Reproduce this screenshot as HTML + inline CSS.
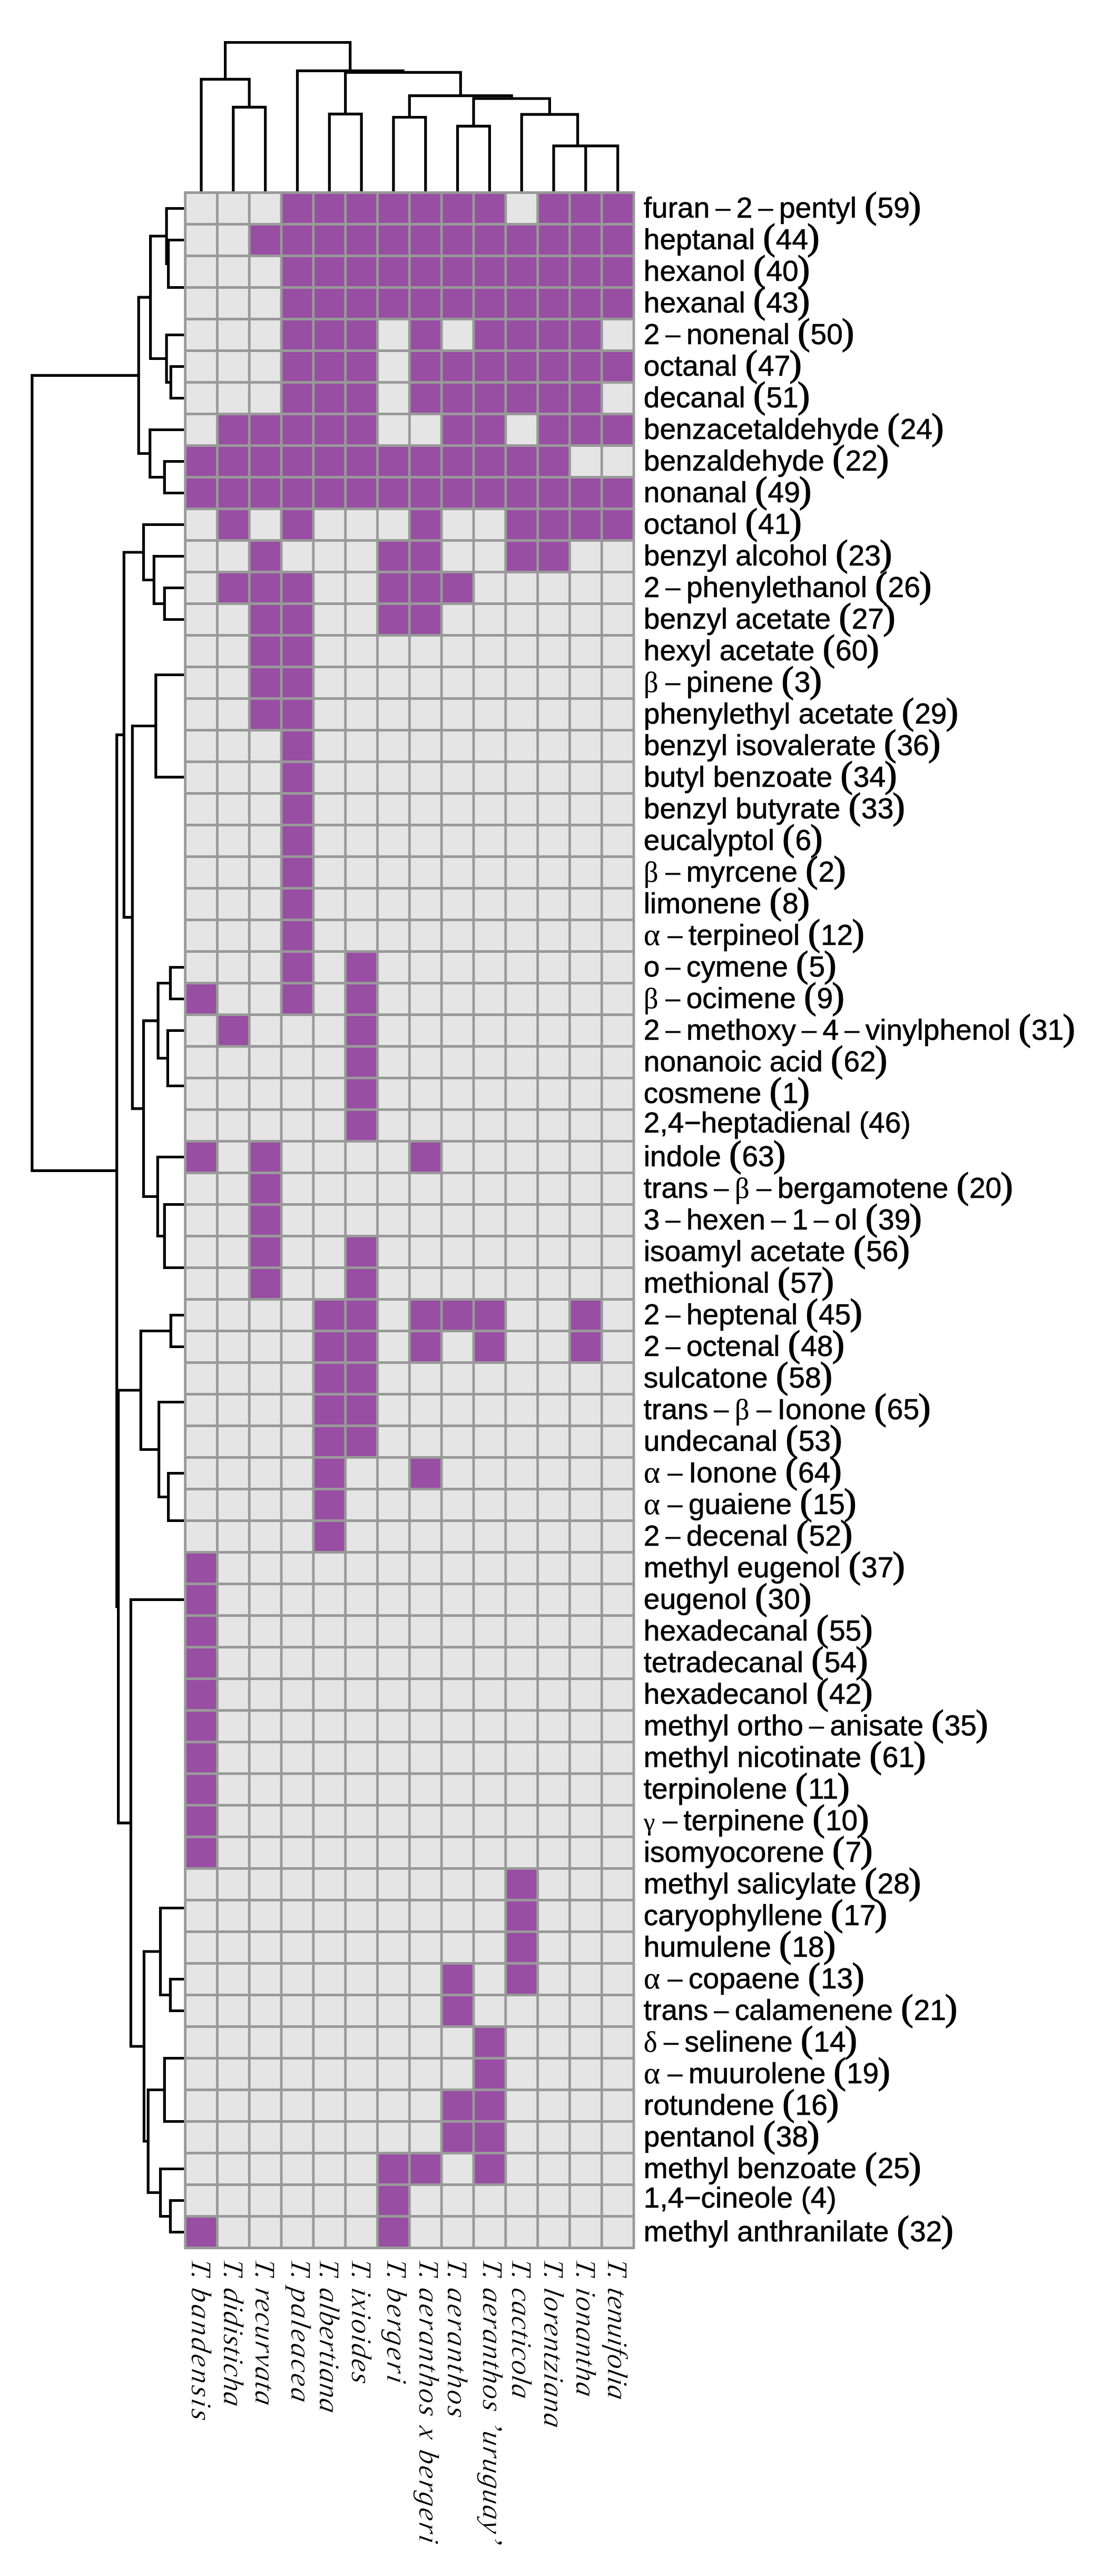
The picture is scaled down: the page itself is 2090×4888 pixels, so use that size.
<!DOCTYPE html>
<html lang="en"><head><meta charset="utf-8"><title>Volatile compounds heatmap</title>
<style>
html,body{margin:0;padding:0;background:#fff}
svg{display:block}
.m{font-family:'Liberation Serif','Times New Roman',serif;font-size:60.0px}
.p{font-family:'Liberation Serif','Times New Roman',serif;font-size:70.0px;stroke-width:1.6px}
.g{font-family:'Liberation Serif','Times New Roman',serif;stroke-width:0.2px}
text{white-space:pre}
</style></head>
<body>
<svg width="2090" height="4888" viewBox="0 0 2090 4888">
<rect width="2090" height="4888" fill="#fff"/>
<rect x="351.60" y="365.50" width="851.48" height="3900.00" fill="#e5e5e5"/>
<g fill="#984ea3">
<rect x="534.06" y="365.50" width="425.74" height="60.00"/>
<rect x="1020.62" y="365.50" width="182.46" height="60.00"/>
<rect x="473.24" y="425.50" width="729.84" height="60.00"/>
<rect x="534.06" y="485.50" width="669.02" height="60.00"/>
<rect x="534.06" y="545.50" width="669.02" height="60.00"/>
<rect x="534.06" y="605.50" width="182.46" height="60.00"/>
<rect x="777.34" y="605.50" width="60.82" height="60.00"/>
<rect x="898.98" y="605.50" width="243.28" height="60.00"/>
<rect x="534.06" y="665.50" width="182.46" height="60.00"/>
<rect x="777.34" y="665.50" width="425.74" height="60.00"/>
<rect x="534.06" y="725.50" width="182.46" height="60.00"/>
<rect x="777.34" y="725.50" width="364.92" height="60.00"/>
<rect x="412.42" y="785.50" width="304.10" height="60.00"/>
<rect x="838.16" y="785.50" width="121.64" height="60.00"/>
<rect x="1020.62" y="785.50" width="182.46" height="60.00"/>
<rect x="351.60" y="845.50" width="729.84" height="60.00"/>
<rect x="351.60" y="905.50" width="851.48" height="60.00"/>
<rect x="412.42" y="965.50" width="60.82" height="60.00"/>
<rect x="534.06" y="965.50" width="60.82" height="60.00"/>
<rect x="777.34" y="965.50" width="60.82" height="60.00"/>
<rect x="959.80" y="965.50" width="243.28" height="60.00"/>
<rect x="473.24" y="1025.50" width="60.82" height="60.00"/>
<rect x="716.52" y="1025.50" width="121.64" height="60.00"/>
<rect x="959.80" y="1025.50" width="121.64" height="60.00"/>
<rect x="412.42" y="1085.50" width="182.46" height="60.00"/>
<rect x="716.52" y="1085.50" width="182.46" height="60.00"/>
<rect x="473.24" y="1145.50" width="121.64" height="60.00"/>
<rect x="716.52" y="1145.50" width="121.64" height="60.00"/>
<rect x="473.24" y="1205.50" width="121.64" height="60.00"/>
<rect x="473.24" y="1265.50" width="121.64" height="60.00"/>
<rect x="473.24" y="1325.50" width="121.64" height="60.00"/>
<rect x="534.06" y="1385.50" width="60.82" height="60.00"/>
<rect x="534.06" y="1445.50" width="60.82" height="60.00"/>
<rect x="534.06" y="1505.50" width="60.82" height="60.00"/>
<rect x="534.06" y="1565.50" width="60.82" height="60.00"/>
<rect x="534.06" y="1625.50" width="60.82" height="60.00"/>
<rect x="534.06" y="1685.50" width="60.82" height="60.00"/>
<rect x="534.06" y="1745.50" width="60.82" height="60.00"/>
<rect x="534.06" y="1805.50" width="60.82" height="60.00"/>
<rect x="655.70" y="1805.50" width="60.82" height="60.00"/>
<rect x="351.60" y="1865.50" width="60.82" height="60.00"/>
<rect x="534.06" y="1865.50" width="60.82" height="60.00"/>
<rect x="655.70" y="1865.50" width="60.82" height="60.00"/>
<rect x="412.42" y="1925.50" width="60.82" height="60.00"/>
<rect x="655.70" y="1925.50" width="60.82" height="60.00"/>
<rect x="655.70" y="1985.50" width="60.82" height="60.00"/>
<rect x="655.70" y="2045.50" width="60.82" height="60.00"/>
<rect x="655.70" y="2105.50" width="60.82" height="60.00"/>
<rect x="351.60" y="2165.50" width="60.82" height="60.00"/>
<rect x="473.24" y="2165.50" width="60.82" height="60.00"/>
<rect x="777.34" y="2165.50" width="60.82" height="60.00"/>
<rect x="473.24" y="2225.50" width="60.82" height="60.00"/>
<rect x="473.24" y="2285.50" width="60.82" height="60.00"/>
<rect x="473.24" y="2345.50" width="60.82" height="60.00"/>
<rect x="655.70" y="2345.50" width="60.82" height="60.00"/>
<rect x="473.24" y="2405.50" width="60.82" height="60.00"/>
<rect x="655.70" y="2405.50" width="60.82" height="60.00"/>
<rect x="594.88" y="2465.50" width="121.64" height="60.00"/>
<rect x="777.34" y="2465.50" width="182.46" height="60.00"/>
<rect x="1081.44" y="2465.50" width="60.82" height="60.00"/>
<rect x="594.88" y="2525.50" width="121.64" height="60.00"/>
<rect x="777.34" y="2525.50" width="60.82" height="60.00"/>
<rect x="898.98" y="2525.50" width="60.82" height="60.00"/>
<rect x="1081.44" y="2525.50" width="60.82" height="60.00"/>
<rect x="594.88" y="2585.50" width="121.64" height="60.00"/>
<rect x="594.88" y="2645.50" width="121.64" height="60.00"/>
<rect x="594.88" y="2705.50" width="121.64" height="60.00"/>
<rect x="594.88" y="2765.50" width="60.82" height="60.00"/>
<rect x="777.34" y="2765.50" width="60.82" height="60.00"/>
<rect x="594.88" y="2825.50" width="60.82" height="60.00"/>
<rect x="594.88" y="2885.50" width="60.82" height="60.00"/>
<rect x="351.60" y="2945.50" width="60.82" height="60.00"/>
<rect x="351.60" y="3005.50" width="60.82" height="60.00"/>
<rect x="351.60" y="3065.50" width="60.82" height="60.00"/>
<rect x="351.60" y="3125.50" width="60.82" height="60.00"/>
<rect x="351.60" y="3185.50" width="60.82" height="60.00"/>
<rect x="351.60" y="3245.50" width="60.82" height="60.00"/>
<rect x="351.60" y="3305.50" width="60.82" height="60.00"/>
<rect x="351.60" y="3365.50" width="60.82" height="60.00"/>
<rect x="351.60" y="3425.50" width="60.82" height="60.00"/>
<rect x="351.60" y="3485.50" width="60.82" height="60.00"/>
<rect x="959.80" y="3545.50" width="60.82" height="60.00"/>
<rect x="959.80" y="3605.50" width="60.82" height="60.00"/>
<rect x="959.80" y="3665.50" width="60.82" height="60.00"/>
<rect x="838.16" y="3725.50" width="60.82" height="60.00"/>
<rect x="959.80" y="3725.50" width="60.82" height="60.00"/>
<rect x="838.16" y="3785.50" width="60.82" height="60.00"/>
<rect x="898.98" y="3845.50" width="60.82" height="60.00"/>
<rect x="898.98" y="3905.50" width="60.82" height="60.00"/>
<rect x="838.16" y="3965.50" width="121.64" height="60.00"/>
<rect x="838.16" y="4025.50" width="121.64" height="60.00"/>
<rect x="716.52" y="4085.50" width="121.64" height="60.00"/>
<rect x="898.98" y="4085.50" width="60.82" height="60.00"/>
<rect x="716.52" y="4145.50" width="60.82" height="60.00"/>
<rect x="351.60" y="4205.50" width="60.82" height="60.00"/>
<rect x="716.52" y="4205.50" width="60.82" height="60.00"/>
</g>
<path d="M317.0 455.5H351.6M317.0 545.5H351.6M319.6 455.5V545.5M313.5 395.5H351.6M313.5 500.5H319.6M316.1 395.5V500.5M321.7 695.5H351.6M321.7 755.5H351.6M324.3 695.5V755.5M313.5 635.5H351.6M313.5 725.5H324.3M316.1 635.5V725.5M283.0 448.0H316.1M283.0 680.5H316.1M285.6 448.0V680.5M309.7 875.5H351.6M309.7 935.5H351.6M312.3 875.5V935.5M282.1 815.5H351.6M282.1 905.5H312.3M284.7 815.5V905.5M260.6 564.2H285.6M260.6 860.5H284.7M263.2 564.2V860.5M309.7 1115.5H351.6M309.7 1175.5H351.6M312.3 1115.5V1175.5M289.7 1055.5H351.6M289.7 1145.5H312.3M292.3 1055.5V1145.5M269.9 995.5H351.6M269.9 1100.5H292.3M272.5 995.5V1100.5M293.2 1280.5H351.6M293.2 1474.6H351.6M295.8 1280.5V1474.6M320.8 1835.5H351.6M320.8 1895.5H351.6M323.4 1835.5V1895.5M315.8 1955.5H351.6M315.8 2060.5H351.6M318.4 1955.5V2060.5M297.5 1865.5H323.4M297.5 2008.0H318.4M300.1 1865.5V2008.0M309.7 2285.5H351.6M309.7 2405.5H351.6M312.3 2285.5V2405.5M296.7 2195.5H351.6M296.7 2345.5H312.3M299.3 2195.5V2345.5M269.9 1936.8H300.1M269.9 2270.5H299.3M272.5 1936.8V2270.5M248.7 1377.5H295.8M248.7 2103.6H272.5M251.3 1377.5V2103.6M232.7 1048.0H272.5M232.7 1740.6H251.3M235.3 1048.0V1740.6M321.7 2495.5H351.6M321.7 2555.5H351.6M324.3 2495.5V2555.5M317.0 2795.5H351.6M317.0 2885.5H351.6M319.6 2795.5V2885.5M299.0 2660.5H351.6M299.0 2840.5H319.6M301.6 2660.5V2840.5M264.7 2525.5H324.3M264.7 2750.5H301.6M267.3 2525.5V2750.5M320.8 3755.5H351.6M320.8 3815.5H351.6M323.4 3755.5V3815.5M301.9 3620.5H351.6M301.9 3785.5H323.4M304.5 3620.5V3785.5M309.7 3905.5H351.6M309.7 4025.5H351.6M312.3 3905.5V4025.5M320.8 4175.5H351.6M320.8 4235.5H351.6M323.4 4175.5V4235.5M301.9 4115.5H351.6M301.9 4205.5H323.4M304.5 4115.5V4205.5M278.6 3965.5H312.3M278.6 4160.5H304.5M281.2 3965.5V4160.5M270.8 3703.0H304.5M270.8 4063.0H281.2M273.4 3703.0V4063.0M245.8 3035.4H351.6M245.8 3883.0H273.4M248.4 3035.4V3883.0M222.0 2638.0H267.3M222.0 3459.2H248.4M224.6 2638.0V3459.2M219.1 1394.3H235.3M219.1 3048.6H224.6M221.7 1394.3V3048.6M58.3 712.4H263.2M58.3 2221.4H221.7M60.9 712.4V2221.4M442.8 200.7V365.5M503.7 200.7V365.5M442.8 203.3H503.7M382.0 147.7V365.5M473.2 147.7V203.3M382.0 150.3H473.2M625.3 213.7V365.5M686.1 213.7V365.5M625.3 216.3H686.1M746.9 219.9V365.5M807.8 219.9V365.5M746.9 222.5H807.8M868.6 236.7V365.5M929.4 236.7V365.5M868.6 239.3H929.4M1111.8 274.3V365.5M1172.7 274.3V365.5M1111.8 276.9H1172.7M1051.0 274.3V365.5M1142.3 274.3V276.9M1051.0 276.9H1142.3M990.2 214.5V365.5M1096.6 214.5V276.9M990.2 217.1H1096.6M899.0 184.4V239.3M1043.4 184.4V217.1M899.0 187.0H1043.4M777.3 179.0V222.5M971.2 179.0V187.0M777.3 181.6H971.2M655.7 134.7V216.3M874.3 134.7V181.6M655.7 137.3H874.3M564.5 131.8V365.5M765.0 131.8V137.3M564.5 134.4H765.0M427.6 77.9V150.3M664.7 77.9V134.4M427.6 80.5H664.7" fill="none" stroke="#000" stroke-width="5.2" stroke-linecap="butt"/>
<path d="M351.60 363.10V4267.90M412.42 363.10V4267.90M473.24 363.10V4267.90M534.06 363.10V4267.90M594.88 363.10V4267.90M655.70 363.10V4267.90M716.52 363.10V4267.90M777.34 363.10V4267.90M838.16 363.10V4267.90M898.98 363.10V4267.90M959.80 363.10V4267.90M1020.62 363.10V4267.90M1081.44 363.10V4267.90M1142.26 363.10V4267.90M1203.08 363.10V4267.90M349.20 365.50H1205.48M349.20 425.50H1205.48M349.20 485.50H1205.48M349.20 545.50H1205.48M349.20 605.50H1205.48M349.20 665.50H1205.48M349.20 725.50H1205.48M349.20 785.50H1205.48M349.20 845.50H1205.48M349.20 905.50H1205.48M349.20 965.50H1205.48M349.20 1025.50H1205.48M349.20 1085.50H1205.48M349.20 1145.50H1205.48M349.20 1205.50H1205.48M349.20 1265.50H1205.48M349.20 1325.50H1205.48M349.20 1385.50H1205.48M349.20 1445.50H1205.48M349.20 1505.50H1205.48M349.20 1565.50H1205.48M349.20 1625.50H1205.48M349.20 1685.50H1205.48M349.20 1745.50H1205.48M349.20 1805.50H1205.48M349.20 1865.50H1205.48M349.20 1925.50H1205.48M349.20 1985.50H1205.48M349.20 2045.50H1205.48M349.20 2105.50H1205.48M349.20 2165.50H1205.48M349.20 2225.50H1205.48M349.20 2285.50H1205.48M349.20 2345.50H1205.48M349.20 2405.50H1205.48M349.20 2465.50H1205.48M349.20 2525.50H1205.48M349.20 2585.50H1205.48M349.20 2645.50H1205.48M349.20 2705.50H1205.48M349.20 2765.50H1205.48M349.20 2825.50H1205.48M349.20 2885.50H1205.48M349.20 2945.50H1205.48M349.20 3005.50H1205.48M349.20 3065.50H1205.48M349.20 3125.50H1205.48M349.20 3185.50H1205.48M349.20 3245.50H1205.48M349.20 3305.50H1205.48M349.20 3365.50H1205.48M349.20 3425.50H1205.48M349.20 3485.50H1205.48M349.20 3545.50H1205.48M349.20 3605.50H1205.48M349.20 3665.50H1205.48M349.20 3725.50H1205.48M349.20 3785.50H1205.48M349.20 3845.50H1205.48M349.20 3905.50H1205.48M349.20 3965.50H1205.48M349.20 4025.50H1205.48M349.20 4085.50H1205.48M349.20 4145.50H1205.48M349.20 4205.50H1205.48M349.20 4265.50H1205.48" fill="none" stroke="#999999" stroke-width="4.8"/>
<g font-family="'Liberation Sans', Arial, Helvetica, sans-serif" font-size="55.1" fill="#000" stroke="#000" stroke-width="0.7">
<text x="1221.8" y="412.8" xml:space="preserve">furan<tspan class="m" dx="8.0" dy="5.6">−</tspan><tspan dx="8.6" dy="-5.6">2</tspan><tspan class="m" dx="8.0" dy="5.6">−</tspan><tspan dx="8.6" dy="-5.6">pentyl</tspan> <tspan class="p" dy="-0.3">(</tspan><tspan dx="1" dy="0.3">59</tspan><tspan class="p" dx="-1.8" dy="-0.3">)</tspan></text>
<text x="1221.8" y="472.8" xml:space="preserve">heptanal <tspan class="p" dy="-0.3">(</tspan><tspan dx="1" dy="0.3">44</tspan><tspan class="p" dx="-1.8" dy="-0.3">)</tspan></text>
<text x="1221.8" y="532.8" xml:space="preserve">hexanol <tspan class="p" dy="-0.3">(</tspan><tspan dx="1" dy="0.3">40</tspan><tspan class="p" dx="-1.8" dy="-0.3">)</tspan></text>
<text x="1221.8" y="592.8" xml:space="preserve">hexanal <tspan class="p" dy="-0.3">(</tspan><tspan dx="1" dy="0.3">43</tspan><tspan class="p" dx="-1.8" dy="-0.3">)</tspan></text>
<text x="1221.8" y="652.8" xml:space="preserve">2<tspan class="m" dx="8.0" dy="5.6">−</tspan><tspan dx="8.6" dy="-5.6">nonenal</tspan> <tspan class="p" dy="-0.3">(</tspan><tspan dx="1" dy="0.3">50</tspan><tspan class="p" dx="-1.8" dy="-0.3">)</tspan></text>
<text x="1221.8" y="712.8" xml:space="preserve">octanal <tspan class="p" dy="-0.3">(</tspan><tspan dx="1" dy="0.3">47</tspan><tspan class="p" dx="-1.8" dy="-0.3">)</tspan></text>
<text x="1221.8" y="772.8" xml:space="preserve">decanal <tspan class="p" dy="-0.3">(</tspan><tspan dx="1" dy="0.3">51</tspan><tspan class="p" dx="-1.8" dy="-0.3">)</tspan></text>
<text x="1221.8" y="832.8" xml:space="preserve">benzacetaldehyde <tspan class="p" dy="-0.3">(</tspan><tspan dx="1" dy="0.3">24</tspan><tspan class="p" dx="-1.8" dy="-0.3">)</tspan></text>
<text x="1221.8" y="892.8" xml:space="preserve">benzaldehyde <tspan class="p" dy="-0.3">(</tspan><tspan dx="1" dy="0.3">22</tspan><tspan class="p" dx="-1.8" dy="-0.3">)</tspan></text>
<text x="1221.8" y="952.8" xml:space="preserve">nonanal <tspan class="p" dy="-0.3">(</tspan><tspan dx="1" dy="0.3">49</tspan><tspan class="p" dx="-1.8" dy="-0.3">)</tspan></text>
<text x="1221.8" y="1012.8" xml:space="preserve">octanol <tspan class="p" dy="-0.3">(</tspan><tspan dx="1" dy="0.3">41</tspan><tspan class="p" dx="-1.8" dy="-0.3">)</tspan></text>
<text x="1221.8" y="1072.8" xml:space="preserve">benzyl alcohol <tspan class="p" dy="-0.3">(</tspan><tspan dx="1" dy="0.3">23</tspan><tspan class="p" dx="-1.8" dy="-0.3">)</tspan></text>
<text x="1221.8" y="1132.8" xml:space="preserve">2<tspan class="m" dx="8.0" dy="5.6">−</tspan><tspan dx="8.6" dy="-5.6">phenylethanol</tspan> <tspan class="p" dy="-0.3">(</tspan><tspan dx="1" dy="0.3">26</tspan><tspan class="p" dx="-1.8" dy="-0.3">)</tspan></text>
<text x="1221.8" y="1192.8" xml:space="preserve">benzyl acetate <tspan class="p" dy="-0.3">(</tspan><tspan dx="1" dy="0.3">27</tspan><tspan class="p" dx="-1.8" dy="-0.3">)</tspan></text>
<text x="1221.8" y="1252.8" xml:space="preserve">hexyl acetate <tspan class="p" dy="-0.3">(</tspan><tspan dx="1" dy="0.3">60</tspan><tspan class="p" dx="-1.8" dy="-0.3">)</tspan></text>
<text x="1221.8" y="1312.8" xml:space="preserve"><tspan class="g" font-size="55">β</tspan><tspan class="m" dx="10.5" dy="5.6">−</tspan><tspan dx="8.6" dy="-5.6">pinene</tspan> <tspan class="p" dy="-0.3">(</tspan><tspan dx="1" dy="0.3">3</tspan><tspan class="p" dx="-1.8" dy="-0.3">)</tspan></text>
<text x="1221.8" y="1372.8" xml:space="preserve">phenylethyl acetate <tspan class="p" dy="-0.3">(</tspan><tspan dx="1" dy="0.3">29</tspan><tspan class="p" dx="-1.8" dy="-0.3">)</tspan></text>
<text x="1221.8" y="1432.8" xml:space="preserve">benzyl isovalerate <tspan class="p" dy="-0.3">(</tspan><tspan dx="1" dy="0.3">36</tspan><tspan class="p" dx="-1.8" dy="-0.3">)</tspan></text>
<text x="1221.8" y="1492.8" xml:space="preserve">butyl benzoate <tspan class="p" dy="-0.3">(</tspan><tspan dx="1" dy="0.3">34</tspan><tspan class="p" dx="-1.8" dy="-0.3">)</tspan></text>
<text x="1221.8" y="1552.8" xml:space="preserve">benzyl butyrate <tspan class="p" dy="-0.3">(</tspan><tspan dx="1" dy="0.3">33</tspan><tspan class="p" dx="-1.8" dy="-0.3">)</tspan></text>
<text x="1221.8" y="1612.8" xml:space="preserve">eucalyptol <tspan class="p" dy="-0.3">(</tspan><tspan dx="1" dy="0.3">6</tspan><tspan class="p" dx="-1.8" dy="-0.3">)</tspan></text>
<text x="1221.8" y="1672.8" xml:space="preserve"><tspan class="g" font-size="55">β</tspan><tspan class="m" dx="10.5" dy="5.6">−</tspan><tspan dx="8.6" dy="-5.6">myrcene</tspan> <tspan class="p" dy="-0.3">(</tspan><tspan dx="1" dy="0.3">2</tspan><tspan class="p" dx="-1.8" dy="-0.3">)</tspan></text>
<text x="1221.8" y="1732.8" xml:space="preserve">limonene <tspan class="p" dy="-0.3">(</tspan><tspan dx="1" dy="0.3">8</tspan><tspan class="p" dx="-1.8" dy="-0.3">)</tspan></text>
<text x="1221.8" y="1792.8" xml:space="preserve"><tspan class="g" font-size="60">α</tspan><tspan class="m" dx="11.3" dy="5.6">−</tspan><tspan dx="8.6" dy="-5.6">terpineol</tspan> <tspan class="p" dy="-0.3">(</tspan><tspan dx="1" dy="0.3">12</tspan><tspan class="p" dx="-1.8" dy="-0.3">)</tspan></text>
<text x="1221.8" y="1852.8" xml:space="preserve">o<tspan class="m" dx="8.0" dy="5.6">−</tspan><tspan dx="8.6" dy="-5.6">cymene</tspan> <tspan class="p" dy="-0.3">(</tspan><tspan dx="1" dy="0.3">5</tspan><tspan class="p" dx="-1.8" dy="-0.3">)</tspan></text>
<text x="1221.8" y="1912.8" xml:space="preserve"><tspan class="g" font-size="55">β</tspan><tspan class="m" dx="10.5" dy="5.6">−</tspan><tspan dx="8.6" dy="-5.6">ocimene</tspan> <tspan class="p" dy="-0.3">(</tspan><tspan dx="1" dy="0.3">9</tspan><tspan class="p" dx="-1.8" dy="-0.3">)</tspan></text>
<text x="1221.8" y="1972.8" xml:space="preserve">2<tspan class="m" dx="8.0" dy="5.6">−</tspan><tspan dx="8.6" dy="-5.6">methoxy</tspan><tspan class="m" dx="8.0" dy="5.6">−</tspan><tspan dx="8.6" dy="-5.6">4</tspan><tspan class="m" dx="8.0" dy="5.6">−</tspan><tspan dx="8.6" dy="-5.6">vinylphenol</tspan> <tspan class="p" dy="-0.3">(</tspan><tspan dx="1" dy="0.3">31</tspan><tspan class="p" dx="-1.8" dy="-0.3">)</tspan></text>
<text x="1221.8" y="2032.8" xml:space="preserve">nonanoic acid <tspan class="p" dy="-0.3">(</tspan><tspan dx="1" dy="0.3">62</tspan><tspan class="p" dx="-1.8" dy="-0.3">)</tspan></text>
<text x="1221.8" y="2092.8" xml:space="preserve">cosmene <tspan class="p" dy="-0.3">(</tspan><tspan dx="1" dy="0.3">1</tspan><tspan class="p" dx="-1.8" dy="-0.3">)</tspan></text>
<text x="1221.8" y="2148.5">2,4−heptadienal (46)</text>
<text x="1221.8" y="2212.8" xml:space="preserve">indole <tspan class="p" dy="-0.3">(</tspan><tspan dx="1" dy="0.3">63</tspan><tspan class="p" dx="-1.8" dy="-0.3">)</tspan></text>
<text x="1221.8" y="2272.8" xml:space="preserve">trans<tspan class="m" dx="8.0" dy="5.6">−</tspan><tspan class="g" font-size="55" dx="8.6" dy="-5.6">β</tspan><tspan class="m" dx="10.5" dy="5.6">−</tspan><tspan dx="8.6" dy="-5.6">bergamotene</tspan> <tspan class="p" dy="-0.3">(</tspan><tspan dx="1" dy="0.3">20</tspan><tspan class="p" dx="-1.8" dy="-0.3">)</tspan></text>
<text x="1221.8" y="2332.8" xml:space="preserve">3<tspan class="m" dx="8.0" dy="5.6">−</tspan><tspan dx="8.6" dy="-5.6">hexen</tspan><tspan class="m" dx="8.0" dy="5.6">−</tspan><tspan dx="8.6" dy="-5.6">1</tspan><tspan class="m" dx="8.0" dy="5.6">−</tspan><tspan dx="8.6" dy="-5.6">ol</tspan> <tspan class="p" dy="-0.3">(</tspan><tspan dx="1" dy="0.3">39</tspan><tspan class="p" dx="-1.8" dy="-0.3">)</tspan></text>
<text x="1221.8" y="2392.8" xml:space="preserve">isoamyl acetate <tspan class="p" dy="-0.3">(</tspan><tspan dx="1" dy="0.3">56</tspan><tspan class="p" dx="-1.8" dy="-0.3">)</tspan></text>
<text x="1221.8" y="2452.8" xml:space="preserve">methional <tspan class="p" dy="-0.3">(</tspan><tspan dx="1" dy="0.3">57</tspan><tspan class="p" dx="-1.8" dy="-0.3">)</tspan></text>
<text x="1221.8" y="2512.8" xml:space="preserve">2<tspan class="m" dx="8.0" dy="5.6">−</tspan><tspan dx="8.6" dy="-5.6">heptenal</tspan> <tspan class="p" dy="-0.3">(</tspan><tspan dx="1" dy="0.3">45</tspan><tspan class="p" dx="-1.8" dy="-0.3">)</tspan></text>
<text x="1221.8" y="2572.8" xml:space="preserve">2<tspan class="m" dx="8.0" dy="5.6">−</tspan><tspan dx="8.6" dy="-5.6">octenal</tspan> <tspan class="p" dy="-0.3">(</tspan><tspan dx="1" dy="0.3">48</tspan><tspan class="p" dx="-1.8" dy="-0.3">)</tspan></text>
<text x="1221.8" y="2632.8" xml:space="preserve">sulcatone <tspan class="p" dy="-0.3">(</tspan><tspan dx="1" dy="0.3">58</tspan><tspan class="p" dx="-1.8" dy="-0.3">)</tspan></text>
<text x="1221.8" y="2692.8" xml:space="preserve">trans<tspan class="m" dx="8.0" dy="5.6">−</tspan><tspan class="g" font-size="55" dx="8.6" dy="-5.6">β</tspan><tspan class="m" dx="10.5" dy="5.6">−</tspan><tspan dx="8.6" dy="-5.6">Ionone</tspan> <tspan class="p" dy="-0.3">(</tspan><tspan dx="1" dy="0.3">65</tspan><tspan class="p" dx="-1.8" dy="-0.3">)</tspan></text>
<text x="1221.8" y="2752.8" xml:space="preserve">undecanal <tspan class="p" dy="-0.3">(</tspan><tspan dx="1" dy="0.3">53</tspan><tspan class="p" dx="-1.8" dy="-0.3">)</tspan></text>
<text x="1221.8" y="2812.8" xml:space="preserve"><tspan class="g" font-size="60">α</tspan><tspan class="m" dx="11.3" dy="5.6">−</tspan><tspan dx="8.6" dy="-5.6">Ionone</tspan> <tspan class="p" dy="-0.3">(</tspan><tspan dx="1" dy="0.3">64</tspan><tspan class="p" dx="-1.8" dy="-0.3">)</tspan></text>
<text x="1221.8" y="2872.8" xml:space="preserve"><tspan class="g" font-size="60">α</tspan><tspan class="m" dx="11.3" dy="5.6">−</tspan><tspan dx="8.6" dy="-5.6">guaiene</tspan> <tspan class="p" dy="-0.3">(</tspan><tspan dx="1" dy="0.3">15</tspan><tspan class="p" dx="-1.8" dy="-0.3">)</tspan></text>
<text x="1221.8" y="2932.8" xml:space="preserve">2<tspan class="m" dx="8.0" dy="5.6">−</tspan><tspan dx="8.6" dy="-5.6">decenal</tspan> <tspan class="p" dy="-0.3">(</tspan><tspan dx="1" dy="0.3">52</tspan><tspan class="p" dx="-1.8" dy="-0.3">)</tspan></text>
<text x="1221.8" y="2992.8" xml:space="preserve">methyl eugenol <tspan class="p" dy="-0.3">(</tspan><tspan dx="1" dy="0.3">37</tspan><tspan class="p" dx="-1.8" dy="-0.3">)</tspan></text>
<text x="1221.8" y="3052.8" xml:space="preserve">eugenol <tspan class="p" dy="-0.3">(</tspan><tspan dx="1" dy="0.3">30</tspan><tspan class="p" dx="-1.8" dy="-0.3">)</tspan></text>
<text x="1221.8" y="3112.8" xml:space="preserve">hexadecanal <tspan class="p" dy="-0.3">(</tspan><tspan dx="1" dy="0.3">55</tspan><tspan class="p" dx="-1.8" dy="-0.3">)</tspan></text>
<text x="1221.8" y="3172.8" xml:space="preserve">tetradecanal <tspan class="p" dy="-0.3">(</tspan><tspan dx="1" dy="0.3">54</tspan><tspan class="p" dx="-1.8" dy="-0.3">)</tspan></text>
<text x="1221.8" y="3232.8" xml:space="preserve">hexadecanol <tspan class="p" dy="-0.3">(</tspan><tspan dx="1" dy="0.3">42</tspan><tspan class="p" dx="-1.8" dy="-0.3">)</tspan></text>
<text x="1221.8" y="3292.8" xml:space="preserve">methyl ortho<tspan class="m" dx="8.0" dy="5.6">−</tspan><tspan dx="8.6" dy="-5.6">anisate</tspan> <tspan class="p" dy="-0.3">(</tspan><tspan dx="1" dy="0.3">35</tspan><tspan class="p" dx="-1.8" dy="-0.3">)</tspan></text>
<text x="1221.8" y="3352.8" xml:space="preserve">methyl nicotinate <tspan class="p" dy="-0.3">(</tspan><tspan dx="1" dy="0.3">61</tspan><tspan class="p" dx="-1.8" dy="-0.3">)</tspan></text>
<text x="1221.8" y="3412.8" xml:space="preserve">terpinolene <tspan class="p" dy="-0.3">(</tspan><tspan dx="1" dy="0.3">11</tspan><tspan class="p" dx="-1.8" dy="-0.3">)</tspan></text>
<text x="1221.8" y="3472.8" xml:space="preserve"><tspan class="g" font-size="49">γ</tspan><tspan class="m" dx="11.6" dy="5.6">−</tspan><tspan dx="8.6" dy="-5.6">terpinene</tspan> <tspan class="p" dy="-0.3">(</tspan><tspan dx="1" dy="0.3">10</tspan><tspan class="p" dx="-1.8" dy="-0.3">)</tspan></text>
<text x="1221.8" y="3532.8" xml:space="preserve">isomyocorene <tspan class="p" dy="-0.3">(</tspan><tspan dx="1" dy="0.3">7</tspan><tspan class="p" dx="-1.8" dy="-0.3">)</tspan></text>
<text x="1221.8" y="3592.8" xml:space="preserve">methyl salicylate <tspan class="p" dy="-0.3">(</tspan><tspan dx="1" dy="0.3">28</tspan><tspan class="p" dx="-1.8" dy="-0.3">)</tspan></text>
<text x="1221.8" y="3652.8" xml:space="preserve">caryophyllene <tspan class="p" dy="-0.3">(</tspan><tspan dx="1" dy="0.3">17</tspan><tspan class="p" dx="-1.8" dy="-0.3">)</tspan></text>
<text x="1221.8" y="3712.8" xml:space="preserve">humulene <tspan class="p" dy="-0.3">(</tspan><tspan dx="1" dy="0.3">18</tspan><tspan class="p" dx="-1.8" dy="-0.3">)</tspan></text>
<text x="1221.8" y="3772.8" xml:space="preserve"><tspan class="g" font-size="60">α</tspan><tspan class="m" dx="11.3" dy="5.6">−</tspan><tspan dx="8.6" dy="-5.6">copaene</tspan> <tspan class="p" dy="-0.3">(</tspan><tspan dx="1" dy="0.3">13</tspan><tspan class="p" dx="-1.8" dy="-0.3">)</tspan></text>
<text x="1221.8" y="3832.8" xml:space="preserve">trans<tspan class="m" dx="8.0" dy="5.6">−</tspan><tspan dx="8.6" dy="-5.6">calamenene</tspan> <tspan class="p" dy="-0.3">(</tspan><tspan dx="1" dy="0.3">21</tspan><tspan class="p" dx="-1.8" dy="-0.3">)</tspan></text>
<text x="1221.8" y="3892.8" xml:space="preserve"><tspan class="g" font-size="55">δ</tspan><tspan class="m" dx="9.3" dy="5.6">−</tspan><tspan dx="8.6" dy="-5.6">selinene</tspan> <tspan class="p" dy="-0.3">(</tspan><tspan dx="1" dy="0.3">14</tspan><tspan class="p" dx="-1.8" dy="-0.3">)</tspan></text>
<text x="1221.8" y="3952.8" xml:space="preserve"><tspan class="g" font-size="60">α</tspan><tspan class="m" dx="11.3" dy="5.6">−</tspan><tspan dx="8.6" dy="-5.6">muurolene</tspan> <tspan class="p" dy="-0.3">(</tspan><tspan dx="1" dy="0.3">19</tspan><tspan class="p" dx="-1.8" dy="-0.3">)</tspan></text>
<text x="1221.8" y="4012.8" xml:space="preserve">rotundene <tspan class="p" dy="-0.3">(</tspan><tspan dx="1" dy="0.3">16</tspan><tspan class="p" dx="-1.8" dy="-0.3">)</tspan></text>
<text x="1221.8" y="4072.8" xml:space="preserve">pentanol <tspan class="p" dy="-0.3">(</tspan><tspan dx="1" dy="0.3">38</tspan><tspan class="p" dx="-1.8" dy="-0.3">)</tspan></text>
<text x="1221.8" y="4132.8" xml:space="preserve">methyl benzoate <tspan class="p" dy="-0.3">(</tspan><tspan dx="1" dy="0.3">25</tspan><tspan class="p" dx="-1.8" dy="-0.3">)</tspan></text>
<text x="1221.8" y="4188.5">1,4−cineole (4)</text>
<text x="1221.8" y="4252.8" xml:space="preserve">methyl anthranilate <tspan class="p" dy="-0.3">(</tspan><tspan dx="1" dy="0.3">32</tspan><tspan class="p" dx="-1.8" dy="-0.3">)</tspan></text>
</g>
<g font-family="'Liberation Serif', 'Times New Roman', serif" font-style="italic" font-size="54.17" fill="#000" stroke="#fff" stroke-width="0.5">
<text transform="translate(363.7 4284.0) rotate(90) skewX(-9.5)" xml:space="preserve">T. <tspan dx="2.0" letter-spacing="4.31">bandensis</tspan></text>
<text transform="translate(424.5 4284.0) rotate(90) skewX(-9.5)" xml:space="preserve">T. <tspan dx="2.0" letter-spacing="1.17">didisticha</tspan></text>
<text transform="translate(485.4 4284.0) rotate(90) skewX(-9.5)" xml:space="preserve">T. <tspan dx="2.0" letter-spacing="1.69">recurvata</tspan></text>
<text transform="translate(552.5 4284.0) rotate(90) skewX(-9.5)" xml:space="preserve">T. <tspan dx="2.0" letter-spacing="3.00">paleacea</tspan></text>
<text transform="translate(607.0 4284.0) rotate(90) skewX(-9.5)" xml:space="preserve">T. <tspan dx="2.0" letter-spacing="1.22">albertiana</tspan></text>
<text transform="translate(667.8 4284.0) rotate(90) skewX(-9.5)" xml:space="preserve">T. <tspan dx="2.0" letter-spacing="1.86">ixioides</tspan></text>
<text transform="translate(734.9 4284.0) rotate(90) skewX(-9.5)" xml:space="preserve">T. <tspan dx="2.0" letter-spacing="3.83">bergeri</tspan></text>
<text transform="translate(795.8 4284.0) rotate(90) skewX(-9.5)" xml:space="preserve">T. <tspan dx="2.0" letter-spacing="3.28">aeranthos x bergeri</tspan></text>
<text transform="translate(850.3 4284.0) rotate(90) skewX(-9.5)" xml:space="preserve">T. <tspan dx="2.0" letter-spacing="3.62">aeranthos</tspan></text>
<text transform="translate(917.4 4284.0) rotate(90) skewX(-9.5)" xml:space="preserve">T. <tspan dx="2.0" letter-spacing="2.16">aeranthos ’uruguay’</tspan></text>
<text transform="translate(971.9 4284.0) rotate(90) skewX(-9.5)" xml:space="preserve">T. <tspan dx="2.0" letter-spacing="1.38">cacticola</tspan></text>
<text transform="translate(1032.7 4284.0) rotate(90) skewX(-9.5)" xml:space="preserve">T. <tspan dx="2.0" letter-spacing="2.00">lorentziana</tspan></text>
<text transform="translate(1093.5 4284.0) rotate(90) skewX(-9.5)" xml:space="preserve">T. <tspan dx="2.0" letter-spacing="1.86">ionantha</tspan></text>
<text transform="translate(1154.4 4284.0) rotate(90) skewX(-9.5)" xml:space="preserve">T. <tspan dx="2.0" letter-spacing="0.44">tenuifolia</tspan></text>
</g>
</svg>
</body></html>
